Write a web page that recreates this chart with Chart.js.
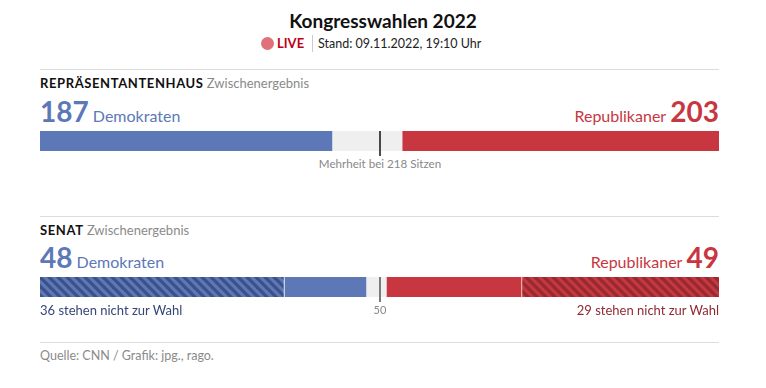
<!DOCTYPE html>
<html><head><meta charset="utf-8">
<script src="https://cdn.jsdelivr.net/npm/chart.js@4"></script>
<style>
html,body{margin:0;padding:0;background:#fff;width:766px;height:388px;overflow:hidden;font-family:Lato,"Noto Sans",sans-serif;}
.t{position:absolute;white-space:nowrap;}
.rule{position:absolute;left:40px;width:679px;height:1px;background:#dcdcdc;}
canvas{position:absolute;left:40px;}
</style></head><body>
<div class="t" style="left:0;width:766px;text-align:center;top:9px;font-size:19px;font-weight:bold;color:#111;">Kongresswahlen 2022</div>
<div class="t" style="left:261px;top:37px;width:13px;height:13px;border-radius:50%;background:#e07079;"></div>
<div class="t" style="left:277px;top:35px;font-size:13px;font-weight:bold;color:#c00018;">LIVE</div>
<div class="t" style="left:312px;top:35px;width:1px;height:17px;background:#ccc;"></div>
<div class="t" style="left:318px;top:35.5px;font-size:12.5px;color:#222;">Stand: 09.11.2022, 19:10 Uhr</div>

<div class="rule" style="top:69px;"></div>
<div class="t" style="left:40px;top:75px;font-size:13px;color:#111;"><b style="letter-spacing:0.6px;">REPRÄSENTANTENHAUS</b> <span style="color:#8a8a8a;">Zwischenergebnis</span></div>
<div class="t" id="hDem" style="left:40px;top:94px;color:#5c78b7;"></div>
<div class="t" id="hRep" style="right:47px;top:94px;color:#c8373f;text-align:right;"></div>
<canvas id="house" width="679" height="26" style="top:131px;"></canvas>
<div class="t" id="hMaj" style="left:0;width:760px;text-align:center;top:156.5px;font-size:11.6px;color:#888;"></div>

<div class="rule" style="top:216px;"></div>
<div class="t" style="left:40px;top:222px;font-size:13px;color:#111;"><b style="letter-spacing:0.6px;">SENAT</b> <span style="color:#8a8a8a;">Zwischenergebnis</span></div>
<div class="t" id="sDem" style="left:40px;top:240px;color:#5c78b7;"></div>
<div class="t" id="sRep" style="right:47px;top:240px;color:#c8373f;text-align:right;"></div>
<canvas id="senate" width="679" height="26" style="top:277px;"></canvas>
<div class="t" id="sDemNote" style="left:40px;top:302px;font-size:13px;color:#34467a;"></div>
<div class="t" id="sMaj" style="left:0;width:760px;text-align:center;top:303px;font-size:11px;color:#888;"></div>
<div class="t" id="sRepNote" style="right:47px;top:302px;font-size:13px;color:#8e2a31;text-align:right;"></div>

<div class="rule" style="top:342px;"></div>
<div class="t" style="left:40px;top:347.5px;font-size:12.5px;color:#8a8a8a;">Quelle: CNN / Grafik: jpg., rago.</div>

<script>
// ---- data ----
const houseParts = ['Demokraten', 'offen', 'Republikaner'];
const houseSeats = [187, 45, 203];
const houseTotal = 435;
const houseMajority = 218;

const senateParts = ['Demokraten (nicht zur Wahl)', 'Demokraten', 'offen', 'Republikaner', 'Republikaner (nicht zur Wahl)'];
const senateSeats = [36, 12, 3, 20, 29];
const senateTotal = 100;
const senateMajority = 50;
const senateTickLabel = '50';

const BLUE = '#5c78b7', BLUE_D = '#3c5187', RED = '#c8373f', RED_D = '#962a31', GREY = '#efefef';

function hatch(light, dark) {
  const s = 9;
  const c = document.createElement('canvas');
  c.width = s; c.height = s;
  const x = c.getContext('2d');
  x.fillStyle = light; x.fillRect(0, 0, s, s);
  x.strokeStyle = dark; x.lineWidth = 3.2;
  for (const x0 of [-s, 0, s]) { x.beginPath(); x.moveTo(x0 - 2, -2); x.lineTo(x0 + s + 2, s + 2); x.stroke(); }
  return x.createPattern(c, 'repeat');
}

function numLabel(n, word, numFirst) {
  const num = `<span style="font-size:28px;font-weight:bold;">${n}</span>`;
  const w = `<span style="font-size:16px;">${word}</span>`;
  return numFirst ? num + ' ' + w : w + ' ' + num;
}

const dem = houseSeats[0], rep = houseSeats[2];
document.getElementById('hDem').innerHTML = numLabel(dem, 'Demokraten', true);
document.getElementById('hRep').innerHTML = numLabel(rep, 'Republikaner', false);
document.getElementById('hMaj').textContent = `Mehrheit bei ${houseMajority} Sitzen`;
const sDem = senateSeats[0] + senateSeats[1], sRep = senateSeats[3] + senateSeats[4];
document.getElementById('sDem').innerHTML = numLabel(sDem, 'Demokraten', true);
document.getElementById('sRep').innerHTML = numLabel(sRep, 'Republikaner', false);
document.getElementById('sDemNote').textContent = `${senateSeats[0]} stehen nicht zur Wahl`;
document.getElementById('sRepNote').textContent = `${senateSeats[4]} stehen nicht zur Wahl`;
document.getElementById('sMaj').textContent = senateTickLabel;

function majorityPlugin(value, color, width) {
  return {
    id: 'maj',
    afterDatasetsDraw(chart) {
      const { ctx, chartArea, scales } = chart;
      const px = Math.round(scales.x.getPixelForValue(value));
      ctx.save();
      ctx.strokeStyle = color; ctx.lineWidth = width;
      ctx.beginPath(); ctx.moveTo(px, chartArea.top); ctx.lineTo(px, chartArea.bottom + 5); ctx.stroke();
      ctx.restore();
    }
  };
}

function makeBar(id, parts, seats, colors, borders, total, majority, majColor, majWidth) {
  new Chart(document.getElementById(id), {
    type: 'bar',
    data: {
      labels: [''],
      datasets: parts.map((p, i) => ({
        label: p, data: [seats[i]], backgroundColor: colors[i],
        borderColor: '#ffffff', borderWidth: borders[i], borderSkipped: false,
        barPercentage: 1, categoryPercentage: 1
      }))
    },
    options: {
      indexAxis: 'y', responsive: false, animation: false,
      layout: { padding: { left: 0, right: 0, top: 0, bottom: 6 } },
      plugins: { legend: { display: false }, tooltip: { enabled: false } },
      scales: {
        x: { stacked: true, min: 0, max: total, display: false },
        y: { stacked: true, display: false }
      }
    },
    plugins: [majorityPlugin(majority, majColor, majWidth)]
  });
}

makeBar('house', houseParts, houseSeats, [BLUE, GREY, RED], [0, 0, 0], houseTotal, houseMajority, '#111', 1.5);
makeBar('senate', senateParts, senateSeats,
  [hatch(BLUE, BLUE_D), BLUE, GREY, RED, hatch(RED, RED_D)],
  [{ right: 1 }, 0, 0, { right: 1 }, 0], senateTotal, senateMajority, '#7a7a7a', 2);
</script>
</body></html>
